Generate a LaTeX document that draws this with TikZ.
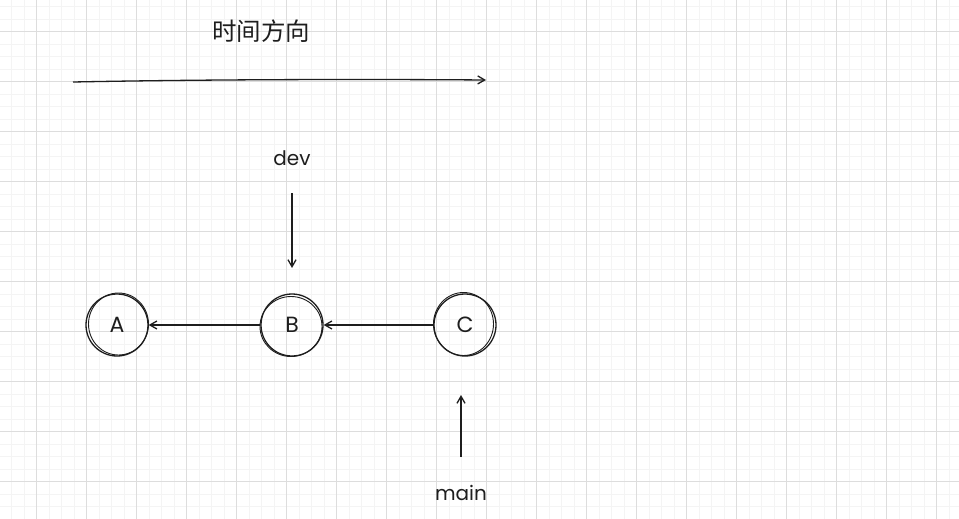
\documentclass[tikz,border=0pt]{standalone}
\usepackage{fontspec}
\setmainfont{Poppins}
\newfontfamily\cjk{Noto Sans CJK SC}
\usetikzlibrary{arrows.meta}
\definecolor{ink}{HTML}{1E1E1E}
\definecolor{gridminor}{HTML}{F4F4F4}
\definecolor{gridmajor}{HTML}{DDDDDD}
\tikzset{%
  commit/.style={
    circle,
    draw=ink,
    line width=1.3pt,
    minimum size=62pt,
    inner sep=0pt,
    text=ink,
    font=\fontsize{22}{22}\selectfont
  },
  label text/.style={
    text=ink,
    inner sep=1pt,
    font=\fontsize{20}{20}\selectfont
  },
  link/.style={
    draw=ink,
    line width=1.3pt,
    -{Straight Barb[length=7pt,width=8pt]}
  },
  sketch/.style={
    draw=ink,
    line width=0.9pt
  },
}

\begin{document}
\begin{tikzpicture}[x=1pt, y=-1pt]
\useasboundingbox (0,0) rectangle (959,519);
\fill[white] (0,0) rectangle (959,519);
% grid
    \foreach \i in {0,...,78}
        \draw[gridminor, line width=0.8pt] (-13.3+12.5*\i,0) -- (-13.3+12.5*\i,519);
    \foreach \j in {0,...,42}
        \draw[gridminor, line width=0.8pt] (0,-18.3+12.5*\j) -- (959,-18.3+12.5*\j);
    \foreach \i in {0,...,19}
        \draw[gridmajor, line width=0.8pt] (36.7+50*\i,0) -- (36.7+50*\i,519);
    \foreach \j in {0,...,10}
        \draw[gridmajor, line width=0.8pt] (0,31.7+50*\j) -- (959,31.7+50*\j);

% time direction
    \node[text=ink, font=\cjk\fontsize{24.5}{24.5}\selectfont] (time) at (261,31) {时间方向};
    \coordinate (time_start) at (73,82);
    \coordinate (time_end) at (486,80);
    \draw[link] (time_start) .. controls (200,79.5) and (350,79) .. (time_end);

% commits
    \node[commit] (A) at (117,325) {A};
    \node[commit] (B) at (292,325) {B};
    \node[commit] (C) at (465,325) {C};
    \draw[sketch] ([shift={(1.5,-1)}]A.center) ellipse (30pt and 31pt);
    \draw[sketch] ([shift={(-1,1.5)}]B.center) ellipse (31pt and 30pt);
    \draw[sketch] ([shift={(-1.5,-1)}]C.center) ellipse (30pt and 31.5pt);

    \draw[link] (C.west) -- (B.east);
    \draw[link] (B.west) -- (A.east);

% branches
    \node[label text] (dev) at (292,158) {dev};
    \coordinate (dev_start) at (292,193);
    \coordinate (dev_end) at (292,268);
    \draw[link] (dev_start) -- (dev_end);

    \node[label text] (main) at (461,493) {main};
    \coordinate (main_start) at (461,457);
    \coordinate (main_end) at (461,395);
    \draw[link] (main_start) -- (main_end);
\end{tikzpicture}
\end{document}
